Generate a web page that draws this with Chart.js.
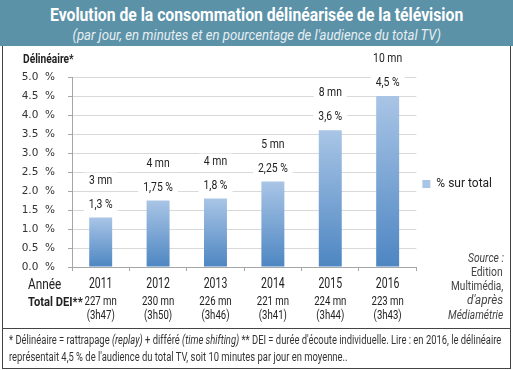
<!DOCTYPE html>
<html>
<head>
<meta charset="utf-8">
<script src="https://cdn.jsdelivr.net/npm/chart.js@4.4.0/dist/chart.umd.min.js"></script>
<style>
  body { margin: 0; width: 513px; height: 370px; overflow: hidden; background: #fff; font-family: Roboto, sans-serif; color: #222; }
  #chart { position: absolute; left: 0; top: 0; }
  #head { position: absolute; left: 0; top: 0; width: 513px; height: 46px; background: #5b92a8; }
  .line { position: absolute; left: 0; width: 513px; text-align: center; white-space: nowrap; }
  .line span { display: inline-block; transform-origin: center; }
  #t1 { top: 4px; font-weight: bold; font-size: 19px; color: #fff; line-height: 22px; }
  #t2 { top: 26px; font-style: italic; font-size: 14px; color: #e6eef2; line-height: 18px; }
  #frame { position: absolute; left: 2px; top: 46px; width: 507px; height: 322px; border: 1px solid #444; border-top: none; }
  #sep { position: absolute; left: 2px; top: 328px; width: 509px; height: 1px; background: #444; }
  .txt { position: absolute; white-space: nowrap; }
  .txt span { display: inline-block; }
  .left span { transform-origin: left center; }
  .right span { transform-origin: right center; }
  #note { position: absolute; left: 9px; top: 332px; font-size: 12px; line-height: 17px; color: #333; }
  #note div { white-space: nowrap; }
  #note span { display: inline-block; transform-origin: left center; }
</style>
</head>
<body>
<canvas id="chart" width="513" height="370"></canvas>
<div id="frame"></div>
<div id="sep"></div>
<div id="head">
  <div id="t1" class="line"><span data-w="413">Evolution de la consommation délinéarisée de la télévision</span></div>
  <div id="t2" class="line"><span data-w="368">(par jour, en minutes et en pourcentage de l'audience du total TV)</span></div>
</div>
<div class="txt left" style="left:23px;top:52px;font-size:12px;font-weight:bold;"><span data-w="51">Délinéaire*</span></div>
<div class="txt left" style="left:28px;top:276px;font-size:14px;"><span data-w="33">Année</span></div>
<div class="txt left" style="left:28px;top:294px;font-size:13px;font-weight:bold;"><span data-w="55">Total DEI**</span></div>
<div class="txt right" style="right:9px;top:251px;font-size:12px;font-style:italic;color:#444;"><span data-w="36">Source :</span></div>
<div class="txt right" style="right:10px;top:265px;font-size:12px;color:#444;"><span data-w="32">Edition</span></div>
<div class="txt right" style="right:10px;top:279px;font-size:12px;color:#444;"><span data-w="52">Multimédia,</span></div>
<div class="txt right" style="right:10px;top:293px;font-size:12px;font-style:italic;color:#444;"><span data-w="36">d'après</span></div>
<div class="txt right" style="right:10px;top:308px;font-size:12px;font-style:italic;color:#444;"><span data-w="55">Médiamétrie</span></div>
<div id="note">
  <div><span data-w="492">* Délinéaire = rattrapage <i>(replay)</i> + différé <i>(time shifting)</i> ** DEI = durée d'écoute individuelle. Lire : en 2016, le délinéaire</span></div>
  <div><span id="note2">représentait 4,5 % de l'audience du total TV, soit 10 minutes par jour en moyenne..</span></div>
</div>
<script>
// data
var years = ['2011', '2012', '2013', '2014', '2015', '2016'];
var pctOfTotal = [1.3, 1.75, 1.8, 2.25, 3.6, 4.5];
var minutesPerDay = [3, 4, 4, 5, 8, 10];
var totalDEI = [227, 230, 226, 221, 224, 223];

// squeeze text horizontally to fit the narrow font of the original
document.querySelectorAll('span[data-w]').forEach(function (s) {
    var k = parseFloat(s.getAttribute('data-w')) / s.offsetWidth;
    s.style.transform = 'scaleX(' + k + ')';
    if (s.parentNode.parentNode.id === 'note') {
        document.getElementById('note2').style.transform = 'scaleX(' + k + ')';
    }
});

function hm(mn) {
    return '(' + Math.floor(mn / 60) + 'h' + ('0' + (mn % 60)).slice(-2) + ')';
}

function narrowText(ctx, text, x, y, sx) {
    ctx.save();
    ctx.translate(x, y);
    ctx.scale(sx, 1);
    ctx.fillText(text, 0, 0);
    ctx.restore();
}

// labels above bars + year / DEI rows under the axis
var labelsPlugin = {
    id: 'labels',
    afterDatasetsDraw: function (chart) {
        var ctx = chart.ctx;
        var meta = chart.getDatasetMeta(0);
        ctx.save();
        ctx.textAlign = 'center';
        ctx.textBaseline = 'middle';
        ctx.font = '13px Roboto';
        meta.data.forEach(function (bar, i) {
            var pct = String(pctOfTotal[i]).replace('.', ',') + ' %';
            var mn = minutesPerDay[i] + ' mn';
            [[pct, bar.y - 13], [mn, bar.y - 37]].forEach(function (l) {
                var w = ctx.measureText(l[0]).width * 0.8;
                ctx.fillStyle = '#fff';
                ctx.fillRect(bar.x - w / 2 - 5, l[1] - 8, w + 10, 16);
                ctx.fillStyle = '#222';
                narrowText(ctx, l[0], bar.x, l[1], 0.8);
            });
        });
        var xs = chart.scales.x;
        years.forEach(function (yr, i) {
            var x = xs.getPixelForValue(i);
            ctx.fillStyle = '#222';
            ctx.font = '14px Roboto';
            narrowText(ctx, yr, x, 284, 0.75);
            ctx.font = '12px Roboto';
            narrowText(ctx, totalDEI[i] + ' mn', x, 302, 0.8);
            narrowText(ctx, hm(totalDEI[i]), x, 316, 0.8);
        });
        ctx.restore();
    }
};

var ctx = document.getElementById('chart').getContext('2d');
var myChart = new Chart(ctx, {
    type: 'bar',
    data: {
        labels: years,
        datasets: [{
            label: '% sur total',
            data: pctOfTotal,
            backgroundColor: function (c) {
                var ys = c.chart.scales.y;
                if (c.type !== 'data' || !ys) return '#6d9bd0';
                var top = ys.getPixelForValue(c.raw);
                var base = ys.getPixelForValue(0);
                if (!isFinite(top) || !isFinite(base)) return '#6d9bd0';
                var g = c.chart.ctx.createLinearGradient(0, top, 0, base);
                g.addColorStop(0, '#a9c5e6');
                g.addColorStop(1, '#4d86c2');
                return g;
            },
            barPercentage: 0.4,
            categoryPercentage: 1
        }]
    },
    options: {
        responsive: false,
        animation: false,
        layout: { padding: { top: 77, right: 11, bottom: 79, left: 0 } },
        plugins: {
            tooltip: { enabled: false },
            legend: {
                position: 'right',
                labels: {
                    boxWidth: 8,
                    boxHeight: 8,
                    padding: 6,
                    color: '#222',
                    font: { family: 'Roboto', size: 12 }
                }
            }
        },
        scales: {
            x: {
                grid: { drawOnChartArea: false, drawTicks: true, tickLength: 4, tickColor: '#a6a6a6', offset: true },
                border: { color: '#a6a6a6' },
                ticks: { display: false },
                afterFit: function (s) { s.height = 24; }
            },
            y: {
                min: 0,
                max: 5,
                ticks: {
                    stepSize: 0.5,
                    padding: 13,
                    color: '#333',
                    font: { family: 'DejaVu Sans', size: 10.5 },
                    callback: function (v) { return v.toFixed(1) + '  %'; }
                },
                grid: { color: '#d9d9d9', tickLength: 4, tickColor: '#a6a6a6' },
                border: { color: '#a6a6a6' },
                afterFit: function (s) { s.width = 72; }
            }
        }
    },
    plugins: [labelsPlugin]
});
</script>
</body>
</html>
